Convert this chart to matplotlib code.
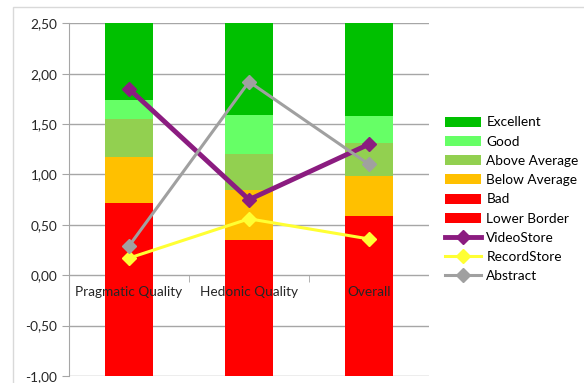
import matplotlib
matplotlib.use('Agg')
from matplotlib import pyplot as plt
from matplotlib.patches import Rectangle
from matplotlib.ticker import FuncFormatter
import numpy as np

plt.rcParams['font.family'] = ['Lato', 'DejaVu Sans']

categories = ['Pragmatic Quality', 'Hedonic Quality', 'Overall']

# benchmark bands (stacked increments)
lower_border = [-1.0, -1.0, -1.0]
bad = [0.72, 0.35, 0.59]
below_average = [0.45, 0.50, 0.39]
above_average = [0.38, 0.35, 0.33]
good = [0.19, 0.39, 0.27]
excellent = [0.76, 0.91, 0.92]

# product scores
video_store = [1.85, 0.75, 1.30]
record_store = [0.17, 0.56, 0.36]
abstract = [0.29, 1.92, 1.10]

W, H = 584, 383
fig = plt.figure(figsize=(W / 100, H / 100), dpi=100)
ax = fig.add_axes([69 / W, 1 - 376 / H, 360 / W, (376 - 23.3) / H])

# light chart frame
fig.patches.append(Rectangle((13 / W, -0.1), 1.2, 1 - 7 / H + 0.1, transform=fig.transFigure,
                             fill=False, edgecolor='#D9D9D9', linewidth=1))

x = np.arange(len(categories))
bw = 0.4

bands = [('Bad', bad, '#FF0000'),
         ('Below Average', below_average, '#FFC000'),
         ('Above Average', above_average, '#92D050'),
         ('Good', good, '#66FF66'),
         ('Excellent', excellent, '#00C000')]

handles = {}
bottom = np.zeros(len(categories))
for name, vals, col in bands:
    handles[name] = ax.bar(x, vals, bw, bottom=bottom, color=col, zorder=1, label=name)
    bottom = bottom + np.array(vals)
handles['Lower Border'] = ax.bar(x, lower_border, bw, color='#FF0000', zorder=1, label='Lower Border')

handles['VideoStore'], = ax.plot(x, video_store, color='#8B1C80', lw=3.5, marker='D', ms=7.5, zorder=4, label='VideoStore')
handles['RecordStore'], = ax.plot(x, record_store, color='#FFFF33', lw=2.2, marker='D', ms=7, zorder=4, label='RecordStore')
handles['Abstract'], = ax.plot(x, abstract, color='#A0A0A0', lw=2.2, marker='D', ms=7, zorder=4, label='Abstract')

# gridlines behind the bars
for yv in np.arange(-1.0, 2.51, 0.5):
    ax.axhline(yv, color='#A6A6A6', lw=1, zorder=0.5)

ax.set_xlim(-0.5, 2.5)
ax.set_ylim(-1, 2.5)
ax.set_yticks(np.arange(-1.0, 2.51, 0.5))
ax.yaxis.set_major_formatter(FuncFormatter(lambda v, p: f'{v:.2f}'.replace('.', ',')))

ax.spines['bottom'].set_position(('data', 0))
ax.spines['bottom'].set_visible(False)
for s in ['top', 'right']:
    ax.spines[s].set_visible(False)
ax.spines['left'].set_color('#A6A6A6')

ax.set_xticks(x, categories)
ax.set_xticks([0.5, 1.5], minor=True)
ax.tick_params(axis='x', which='major', length=0, pad=8, labelsize=9.8, labelcolor='#262626')
ax.tick_params(axis='x', which='minor', length=5, color='#A6A6A6', direction='out')
ax.tick_params(axis='y', length=5, color='#A6A6A6', labelsize=9.8, labelcolor='#262626')

order = ['Excellent', 'Good', 'Above Average', 'Below Average', 'Bad', 'Lower Border',
         'VideoStore', 'RecordStore', 'Abstract']
fig.legend([handles[k] for k in order], order, loc='upper left',
           bbox_to_anchor=(440 / W, 1 - 111 / H), frameon=False, fontsize=9.8,
           handlelength=2.6, handleheight=0.75, labelspacing=0.53, handletextpad=0.4,
           borderaxespad=0)

fig.savefig('out.png', dpi=100)
